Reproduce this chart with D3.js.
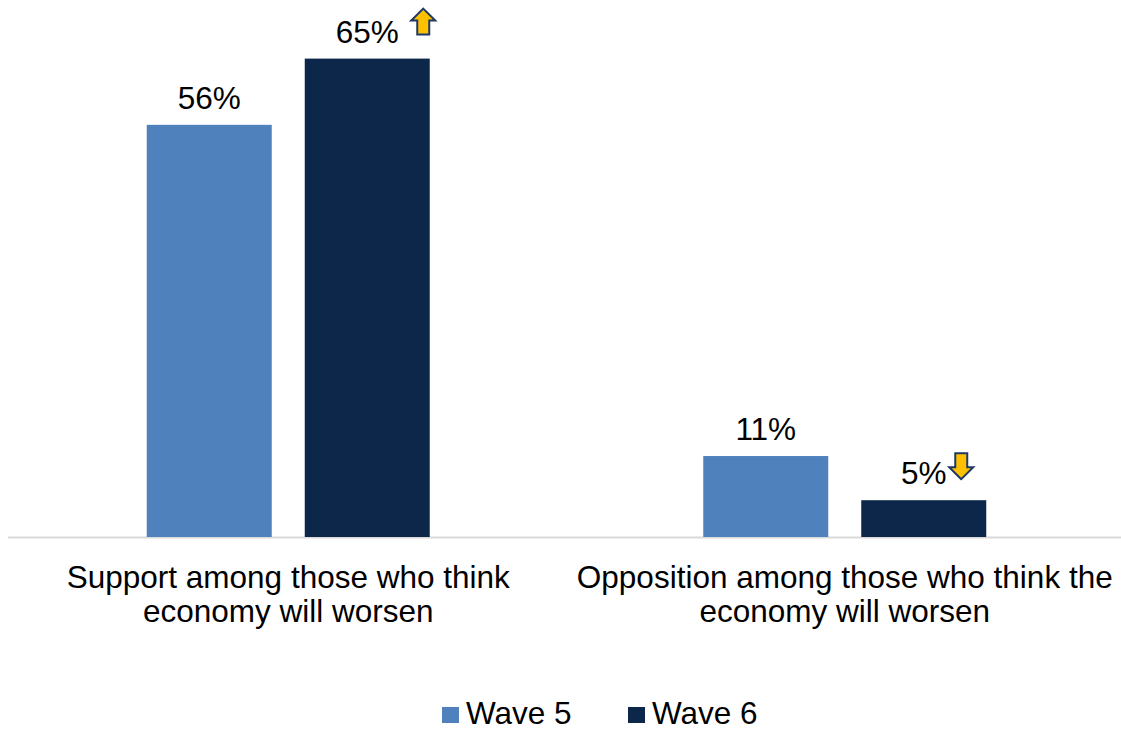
<!DOCTYPE html>
<html>
<head>
<meta charset="utf-8">
<script src="https://cdn.jsdelivr.net/npm/d3@7"></script>
<style>
  html, body { margin: 0; padding: 0; background: #fff; }
  svg { display: block; font-family: "Liberation Sans", Arial, sans-serif; }
</style>
</head>
<body>
<svg id="chart" width="1121" height="731"></svg>
<script>
// Survey results by wave
const categories = [
  ["Support among those who think", "economy will worsen"],
  ["Opposition among those who think the", "economy will worsen"]
];
const seriesNames = ["Wave 5", "Wave 6"];
const wave5 = [56, 11];
const wave6 = [65, 5];
// change markers for wave 6 values: "up" / "down"
const wave6Change = ["up", "down"];

const colors = { "Wave 5": "#4F81BD", "Wave 6": "#0C2749" };

const svg = d3.select("#chart");
const baseline = 537;
const fontSize = 31.5;

const x0 = d3.scaleBand().domain(d3.range(categories.length)).range([10, 1123]).paddingInner(0).paddingOuter(0);
const groupInner = 283;
const groupOffset = (x0.bandwidth() - groupInner) / 2;
const x1 = d3.scaleBand().domain(seriesNames).range([groupOffset, groupOffset + groupInner]).paddingInner(33 / 158).paddingOuter(0);
const y = d3.scaleLinear().domain([0, 70]).range([baseline, baseline - 70 * 7.36]);

const rows = categories.map((c, i) => ({
  i,
  values: [
    { name: "Wave 5", value: wave5[i] },
    { name: "Wave 6", value: wave6[i], change: wave6Change[i] }
  ]
}));

// axis baseline
svg.append("line")
  .attr("x1", 8).attr("x2", 1121)
  .attr("y1", baseline + 0.5).attr("y2", baseline + 0.5)
  .attr("stroke", "#d9d9d9").attr("stroke-width", 2);

const groups = svg.selectAll("g.group").data(rows).join("g")
  .attr("class", "group")
  .attr("transform", d => `translate(${x0(d.i)},0)`);

groups.selectAll("rect").data(d => d.values).join("rect")
  .attr("x", d => x1(d.name))
  .attr("width", x1.bandwidth())
  .attr("y", d => y(d.value))
  .attr("height", d => y(0) - y(d.value))
  .attr("fill", d => colors[d.name]);

groups.selectAll("text.val").data(d => d.values).join("text")
  .attr("class", "val")
  .attr("x", d => x1(d.name) + x1.bandwidth() / 2)
  .attr("y", d => y(d.value) - 16)
  .attr("text-anchor", "middle")
  .attr("font-size", fontSize)
  .attr("fill", "#000")
  .text(d => d.value + "%");

// change arrows next to wave 6 labels
const upArrow = "M0,-13 L12,-1 L6,-1 L6,13 L-6,13 L-6,-1 L-12,-1 Z";
groups.each(function (d) {
  const v = d.values[1];
  const g = d3.select(this);
  const cx = x1(v.name) + x1.bandwidth() / 2;
  if (v.change === "up") {
    g.append("path")
      .attr("d", upArrow)
      .attr("transform", `translate(${cx + 56},${y(v.value) - 37})`)
      .attr("fill", "#FFC000").attr("stroke", "#1F3864").attr("stroke-width", 2).attr("stroke-linejoin", "miter");
  } else if (v.change === "down") {
    g.append("path")
      .attr("d", upArrow)
      .attr("transform", `translate(${cx + 37.5},${y(v.value) - 34}) rotate(180)`)
      .attr("fill", "#FFC000").attr("stroke", "#1F3864").attr("stroke-width", 2).attr("stroke-linejoin", "miter");
  }
});

// category labels
groups.append("text")
  .attr("x", x0.bandwidth() / 2)
  .attr("text-anchor", "middle")
  .attr("font-size", fontSize)
  .attr("fill", "#000")
  .selectAll("tspan").data(d => categories[d.i]).join("tspan")
  .attr("x", x0.bandwidth() / 2)
  .attr("y", (t, j) => 588 + j * 34)
  .text(t => t);

// legend
const legendItems = [
  { name: "Wave 5", x: 442 },
  { name: "Wave 6", x: 628 }
];
const lg = svg.append("g").selectAll("g").data(legendItems).join("g")
  .attr("transform", d => `translate(${d.x},707)`);
lg.append("rect").attr("width", 17).attr("height", 16).attr("fill", d => colors[d.name]);
lg.append("text").attr("x", 24).attr("y", 17).attr("font-size", fontSize).attr("fill", "#000").text(d => d.name);
</script>
</body>
</html>
